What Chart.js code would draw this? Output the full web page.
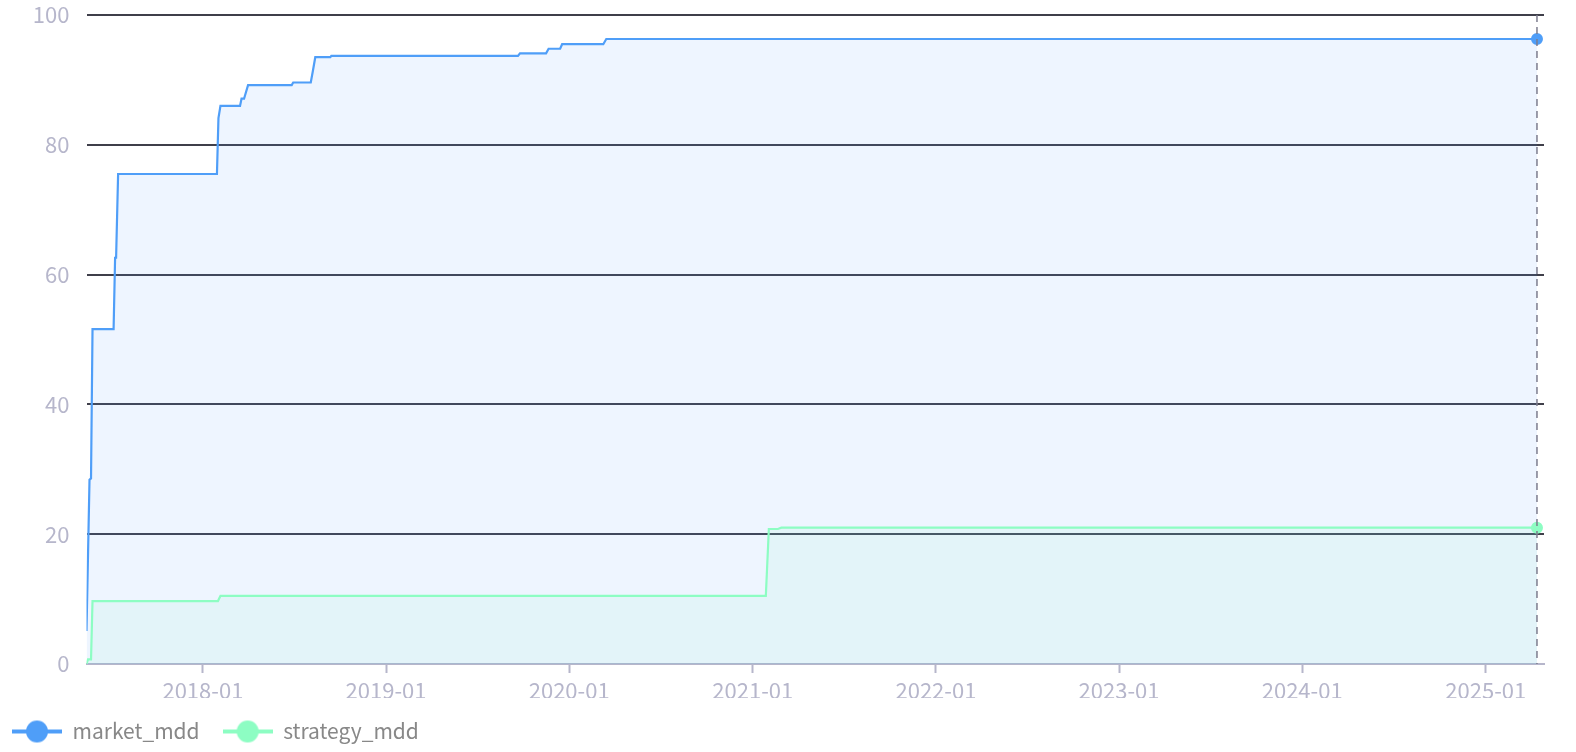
<!DOCTYPE html>
<html>
<head>
<meta charset="utf-8">
<title>MDD</title>
<script src="https://cdn.jsdelivr.net/npm/chart.js@4.4.1/dist/chart.umd.min.js"></script>
<style>
    html, body { margin: 0; padding: 0; background: #fff; }
    #wrap { width: 1576px; height: 752px; }
</style>
</head>
<body>
<div id="wrap"><canvas id="mddChart" width="1576" height="752"></canvas></div>
<script>
// values (drawdown, %)
const marketDates = [
    '2017-05-14', '2017-05-20', '2017-05-23', '2017-05-26', '2017-07-07', '2017-07-10',
    '2017-07-12', '2017-07-16', '2018-01-29', '2018-02-01', '2018-02-05', '2018-03-16',
    '2018-03-19', '2018-03-24', '2018-04-01', '2018-06-27', '2018-06-30', '2018-08-04',
    '2018-08-08', '2018-08-13', '2018-09-12', '2018-09-14', '2019-09-21', '2019-09-25',
    '2019-11-16', '2019-11-21', '2019-12-14', '2019-12-18', '2020-03-09', '2020-03-15',
    '2025-04-13'
];
const marketMdd = [
    5.1, 28.4, 28.6, 51.6, 51.6, 62.6,
    62.6, 75.5, 75.5, 84.1, 86.0, 86.0,
    87.1, 87.1, 89.2, 89.2, 89.6, 89.6,
    91.3, 93.5, 93.5, 93.7, 93.7, 94.1,
    94.1, 94.8, 94.8, 95.5, 95.5, 96.3,
    96.3
];
const strategyDates = [
    '2017-05-14', '2017-05-17', '2017-05-23', '2017-05-26', '2018-01-31', '2018-02-05',
    '2021-01-27', '2021-02-02', '2021-02-20', '2021-02-27', '2025-04-13'
];
const strategyMdd = [
    0, 0.7, 0.7, 9.7, 9.7, 10.5,
    10.5, 20.8, 20.8, 21.0, 21.0
];
const yearTicks = ['2018-01-01', '2019-01-01', '2020-01-01', '2021-01-01', '2022-01-01', '2023-01-01', '2024-01-01', '2025-01-01'];
const yearLabels = ['2018-01', '2019-01', '2020-01', '2021-01', '2022-01', '2023-01', '2024-01', '2025-01'];
const axisStart = '2017-05-14';
const axisEnd = '2025-04-27';

const marketColor = '#4f9ef8';
const strategyColor = '#8dfdc3';
const tickColor = '#b6b6cb';
const fontFamily = '"Noto Sans CJK KR", "Noto Sans", sans-serif';

function toTime(s) {
    return Date.parse(s + 'T00:00:00Z');
}

function toPoints(dates, values) {
    return dates.map((d, i) => ({ x: toTime(d), y: values[i] }));
}

// line + dot icon like the original legend
function legendIcon(color) {
    const c = document.createElement('canvas');
    c.width = 50;
    c.height = 24;
    const g = c.getContext('2d');
    g.strokeStyle = color;
    g.lineWidth = 4;
    g.beginPath();
    g.moveTo(0, 12);
    g.lineTo(50, 12);
    g.stroke();
    g.fillStyle = color;
    g.beginPath();
    g.arc(25, 12, 11, 0, Math.PI * 2);
    g.fill();
    return c;
}

const icons = [legendIcon(marketColor), legendIcon(strategyColor)];

const crosshair = {
    id: 'crosshair',
    afterDatasetsDraw(chart) {
        const { ctx, chartArea, scales } = chart;
        const x = scales.x.getPixelForValue(toTime(marketDates[marketDates.length - 1]));
        ctx.save();
        ctx.strokeStyle = '#7d7d8e';
        ctx.lineWidth = 1.5;
        ctx.setLineDash([7, 5]);
        ctx.beginPath();
        ctx.moveTo(x, chartArea.top);
        ctx.lineTo(x, chartArea.bottom);
        ctx.stroke();
        ctx.restore();
    }
};

// pull the legend a bit left, the gap between items is wider than the start offset
const legendShift = {
    id: 'legendShift',
    afterLayout(chart) {
        if (chart.legend) chart.legend.left -= 11;
    }
};

function lastOnly(len, r) {
    return ctx => (ctx.dataIndex === len - 1 ? r : 0);
}

const ctx = document.getElementById('mddChart').getContext('2d');
const mddChart = new Chart(ctx, {
    type: 'line',
    data: {
        datasets: [{
            label: 'market_mdd',
            data: toPoints(marketDates, marketMdd),
            borderColor: marketColor,
            backgroundColor: 'rgba(84, 160, 255, 0.1)',
            pointBackgroundColor: marketColor,
            pointBorderColor: marketColor,
            borderWidth: 2.2,
            pointRadius: lastOnly(marketMdd.length, 5),
            pointBorderWidth: 2,
            fill: 'origin',
            tension: 0,
            order: 1
        }, {
            label: 'strategy_mdd',
            data: toPoints(strategyDates, strategyMdd),
            borderColor: strategyColor,
            backgroundColor: 'rgba(130, 240, 200, 0.1)',
            pointBackgroundColor: strategyColor,
            pointBorderColor: strategyColor,
            borderWidth: 2.2,
            pointRadius: lastOnly(strategyMdd.length, 5),
            pointBorderWidth: 2,
            fill: 'origin',
            tension: 0,
            order: 0
        }]
    },
    options: {
        responsive: false,
        animation: false,
        events: [],
        layout: {
            padding: { top: 15, right: 32, bottom: 0, left: 0 }
        },
        scales: {
            x: {
                type: 'linear',
                min: toTime(axisStart),
                max: toTime(axisEnd),
                afterBuildTicks: scale => {
                    scale.ticks = yearTicks.map(d => ({ value: toTime(d) }));
                },
                afterFit: scale => {
                    scale.height = 34;
                    scale.paddingLeft = 0;
                    scale.paddingRight = 0;
                },
                ticks: {
                    autoSkip: false,
                    maxRotation: 0,
                    padding: 4,
                    color: tickColor,
                    font: { family: fontFamily, size: 22 },
                    callback: (value, i) => yearLabels[i]
                },
                grid: {
                    drawOnChartArea: false,
                    drawTicks: true,
                    tickLength: 9,
                    tickWidth: 2,
                    tickColor: tickColor
                },
                border: { display: true, color: tickColor, width: 2 }
            },
            y: {
                min: 0,
                max: 100,
                afterFit: scale => {
                    scale.width = 86.5;
                    scale.paddingTop = 0;
                    scale.paddingBottom = 0;
                },
                ticks: {
                    stepSize: 20,
                    padding: 17,
                    color: tickColor,
                    font: { family: fontFamily, size: 22 }
                },
                grid: {
                    drawTicks: false,
                    lineWidth: 2,
                    color: c => (c.tick.value === 0 ? 'rgba(0,0,0,0)' : '#3f3f4a')
                },
                border: { display: false }
            }
        },
        plugins: {
            tooltip: { enabled: false },
            legend: {
                position: 'bottom',
                align: 'start',
                labels: {
                    usePointStyle: true,
                    pointStyleWidth: 50,
                    padding: 23,
                    color: '#888888',
                    font: { family: fontFamily, size: 21 },
                    sort: (a, b) => a.datasetIndex - b.datasetIndex,
                    generateLabels: chart => {
                        const items = Chart.defaults.plugins.legend.labels.generateLabels(chart);
                        items.forEach(item => {
                            item.pointStyle = icons[item.datasetIndex];
                        });
                        return items;
                    }
                }
            }
        }
    },
    plugins: [crosshair, legendShift]
});
</script>
</body>
</html>
